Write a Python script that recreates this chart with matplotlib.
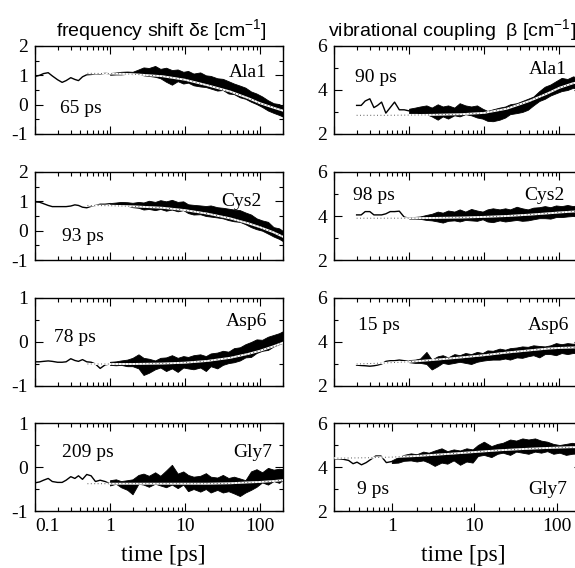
import numpy as np
import matplotlib
matplotlib.use("Agg")
import matplotlib.pyplot as plt

plt.rcParams['font.family'] = 'Liberation Serif'
plt.rcParams['mathtext.fontset'] = 'custom'
plt.rcParams['mathtext.rm'] = 'Liberation Sans'
plt.rcParams['mathtext.it'] = 'Liberation Sans:italic'

residues = ["Ala1", "Cys2", "Asp6", "Gly7"]
freq_tau = ["65 ps", "93 ps", "78 ps", "209 ps"]
coup_tau = ["90 ps", "98 ps", "15 ps", "9 ps"]

# time grids [ps]
t_early_left = [0.1, 0.115, 0.13, 0.15, 0.17, 0.2, 0.23, 0.26, 0.3, 0.34, 0.38, 0.43,
                0.49, 0.56, 0.64, 0.74, 0.86, 1.0]
t_early_right = [0.2, 0.23, 0.26, 0.3, 0.34, 0.38, 0.43, 0.49, 0.56, 0.64, 0.74, 0.86, 1.0]
t_band = [1.0, 1.2, 1.4, 1.7, 2.0, 2.4, 2.8, 3.3, 4.0, 4.7, 5.6, 6.7, 8, 9.5, 11, 13,
          16, 19, 22, 27, 32, 38, 45, 54, 64, 76, 90, 107, 128, 152, 180, 200]
t_fit_left = [0.5, 1, 2, 5, 10, 20, 40, 70, 100, 150, 200]
t_fit_right = [0.2, 0.5, 1, 2, 5, 10, 20, 40, 70, 100, 150, 200]

# frequency shift (left column)
freq_early = [
    [0.96, 1.0, 1.06, 1.09, 0.98, 0.85, 0.76, 0.82, 0.92, 0.86, 0.82, 0.95, 1.02, 1.03, 1.05, 1.04, 1.07, 1.05],
    [0.98, 0.97, 0.92, 0.86, 0.82, 0.82, 0.82, 0.82, 0.84, 0.88, 0.86, 0.8, 0.78, 0.83, 0.86, 0.9, 0.9, 0.92],
    [-0.45, -0.45, -0.44, -0.43, -0.44, -0.46, -0.46, -0.45, -0.38, -0.42, -0.44, -0.4, -0.45, -0.46, -0.5, -0.6, -0.52, -0.5],
    [-0.36, -0.34, -0.3, -0.26, -0.33, -0.35, -0.35, -0.3, -0.22, -0.26, -0.2, -0.28, -0.17, -0.2, -0.33, -0.3, -0.33, -0.38],
]
freq_hi = [
    [1.08, 1.1, 1.12, 1.13, 1.12, 1.2, 1.27, 1.25, 1.32, 1.22, 1.26, 1.18, 1.2, 1.12, 1.15, 1.06,
     1.1, 1.0, 0.98, 0.9, 0.88, 0.8, 0.72, 0.65, 0.58, 0.45, 0.38, 0.28, 0.15, 0.05, 0.02, -0.05],
    [0.94, 0.96, 0.98, 0.97, 0.95, 0.98, 0.96, 1.02, 0.98, 1.04, 1.0, 1.05, 0.98, 1.0, 0.9, 0.88,
     0.86, 0.84, 0.86, 0.8, 0.78, 0.75, 0.72, 0.7, 0.62, 0.55, 0.42, 0.35, 0.3, 0.12, 0.08, 0.0],
    [-0.45, -0.44, -0.42, -0.4, -0.36, -0.28, -0.36, -0.38, -0.42, -0.36, -0.35, -0.3, -0.36, -0.32, -0.34, -0.3,
     -0.28, -0.32, -0.26, -0.24, -0.2, -0.22, -0.14, -0.12, -0.05, 0.0, 0.06, 0.05, 0.12, 0.16, 0.2, 0.24],
    [-0.3, -0.28, -0.32, -0.3, -0.28, -0.18, -0.15, -0.2, -0.12, -0.2, -0.08, 0.05, -0.15, -0.1, -0.18, -0.22,
     -0.2, -0.14, -0.22, -0.24, -0.18, -0.25, -0.22, -0.26, -0.3, -0.1, -0.05, -0.12, -0.02, -0.06, -0.04, -0.05],
]
freq_lo = [
    [1.02, 1.03, 1.03, 1.05, 1.04, 1.06, 1.0, 0.98, 0.95, 0.9, 0.78, 0.68, 0.8, 0.72, 0.75, 0.66,
     0.62, 0.6, 0.55, 0.48, 0.5, 0.38, 0.36, 0.25, 0.2, 0.1, 0.02, -0.08, -0.2, -0.28, -0.35, -0.4],
    [0.88, 0.88, 0.86, 0.85, 0.8, 0.78, 0.72, 0.74, 0.7, 0.74, 0.68, 0.72, 0.66, 0.7, 0.6, 0.55,
     0.56, 0.5, 0.48, 0.45, 0.42, 0.36, 0.32, 0.3, 0.22, 0.12, 0.05, 0.0, -0.1, -0.2, -0.28, -0.35],
    [-0.52, -0.53, -0.52, -0.55, -0.55, -0.6, -0.75, -0.7, -0.62, -0.58, -0.66, -0.6, -0.68, -0.58, -0.6, -0.62,
     -0.58, -0.66, -0.55, -0.6, -0.52, -0.48, -0.46, -0.42, -0.35, -0.34, -0.25, -0.2, -0.18, -0.1, -0.05, -0.02],
    [-0.42, -0.38, -0.46, -0.52, -0.62, -0.38, -0.4, -0.45, -0.38, -0.42, -0.46, -0.4, -0.48, -0.4, -0.55, -0.5,
     -0.56, -0.5, -0.58, -0.52, -0.58, -0.55, -0.6, -0.66, -0.58, -0.52, -0.45, -0.35, -0.4, -0.32, -0.36, -0.3],
]
freq_fit = [
    [1.07, 1.06, 1.04, 0.97, 0.85, 0.66, 0.45, 0.22, 0.05, -0.1, -0.2],
    [0.86, 0.85, 0.83, 0.78, 0.7, 0.58, 0.42, 0.25, 0.12, -0.05, -0.2],
    [-0.5, -0.5, -0.5, -0.49, -0.47, -0.43, -0.36, -0.27, -0.2, -0.1, -0.02],
    [-0.38, -0.38, -0.38, -0.38, -0.38, -0.38, -0.37, -0.35, -0.34, -0.32, -0.3],
]

# vibrational coupling (right column)
coup_early = [
    [3.3, 3.3, 3.5, 3.6, 3.2, 3.3, 3.45, 2.95, 3.2, 3.45, 3.1, 3.1, 3.05],
    [4.05, 4.05, 4.2, 4.2, 4.05, 4.05, 4.05, 4.1, 4.2, 4.2, 4.22, 3.95, 3.9],
    [2.95, 2.93, 2.92, 2.9, 2.92, 2.95, 3.0, 3.12, 3.15, 3.15, 3.18, 3.15, 3.12],
    [4.37, 4.37, 4.35, 4.3, 4.15, 4.22, 4.1, 4.2, 4.35, 4.5, 4.5, 4.2, 4.25],
]
coup_hi = [
    [3.15, 3.2, 3.25, 3.3, 3.2, 3.35, 3.25, 3.3, 3.2, 3.4, 3.3, 3.25, 3.3, 3.15, 3.05, 3.12,
     3.2, 3.25, 3.35, 3.4, 3.5, 3.6, 3.7, 3.95, 4.15, 4.25, 4.4, 4.55, 4.5, 4.62, 4.55, 4.6],
    [3.95, 3.96, 3.98, 4.05, 4.1, 4.2, 4.15, 4.25, 4.2, 4.3, 4.2, 4.32, 4.25, 4.2, 4.3, 4.35,
     4.3, 4.35, 4.3, 4.42, 4.35, 4.3, 4.38, 4.4, 4.45, 4.4, 4.48, 4.45, 4.5, 4.45, 4.5, 4.52],
    [3.18, 3.2, 3.25, 3.55, 3.2, 3.35, 3.4, 3.3, 3.45, 3.4, 3.5, 3.45, 3.55, 3.5, 3.62, 3.6,
     3.7, 3.65, 3.72, 3.75, 3.8, 3.78, 3.85, 3.82, 3.8, 3.85, 3.95, 3.9, 3.95, 3.92, 3.95, 3.92],
    [4.3, 4.45, 4.55, 4.62, 4.58, 4.7, 4.65, 4.75, 4.85, 4.72, 4.8, 4.75, 4.85, 4.8, 5.0, 5.15,
     4.95, 5.05, 5.1, 5.25, 5.2, 5.3, 5.25, 5.3, 5.2, 5.15, 5.05, 5.0, 5.05, 5.1, 5.05, 5.1],
]
coup_lo = [
    [2.95, 2.95, 2.92, 2.9, 2.8, 2.65, 2.8, 2.7, 2.85, 2.8, 2.9, 2.85, 2.75, 2.7, 2.6, 2.58,
     2.65, 2.75, 2.9, 2.95, 3.0, 3.1, 3.3, 3.5, 3.6, 3.75, 3.85, 3.95, 4.0, 4.1, 4.05, 4.15],
    [3.88, 3.88, 3.87, 3.82, 3.8, 3.75, 3.7, 3.78, 3.8, 3.75, 3.82, 3.8, 3.78, 3.85, 3.75, 3.72,
     3.8, 3.75, 3.78, 3.82, 3.78, 3.8, 3.85, 3.9, 3.9, 3.88, 3.95, 3.95, 3.98, 4.0, 4.02, 4.05],
    [3.08, 3.05, 3.05, 3.0, 2.75, 2.9, 3.05, 3.0, 3.05, 3.1, 3.05, 3.0, 3.1, 3.15, 3.18, 3.2,
     3.2, 3.25, 3.2, 3.3, 3.28, 3.35, 3.4, 3.3, 3.45, 3.45, 3.4, 3.5, 3.45, 3.5, 3.48, 3.5],
    [4.18, 4.2, 4.28, 4.3, 4.25, 4.3, 4.2, 4.05, 4.2, 4.15, 4.3, 4.1, 4.25, 4.2, 4.5, 4.55,
     4.45, 4.6, 4.65, 4.55, 4.7, 4.65, 4.6, 4.7, 4.65, 4.72, 4.6, 4.65, 4.55, 4.6, 4.62, 4.65],
]
coup_fit = [
    [2.85, 2.85, 2.86, 2.87, 2.9, 2.96, 3.15, 3.5, 3.85, 4.1, 4.3, 4.4],
    [3.9, 3.9, 3.9, 3.91, 3.93, 3.96, 4.0, 4.06, 4.12, 4.16, 4.2, 4.22],
    [3.0, 3.05, 3.1, 3.18, 3.3, 3.4, 3.52, 3.62, 3.7, 3.73, 3.75, 3.76],
    [4.4, 4.42, 4.45, 4.5, 4.6, 4.68, 4.76, 4.82, 4.86, 4.88, 4.9, 4.9],
]

# label positions in axes fraction (x, y)
freq_name_pos = [(0.935, 0.70), (0.915, 0.67), (0.935, 0.73), (0.955, 0.67)]
freq_tau_pos = [(0.10, 0.29), (0.11, 0.27), (0.075, 0.55), (0.11, 0.67)]
coup_name_pos = [(0.94, 0.73), (0.93, 0.73), (0.95, 0.69), (0.94, 0.25)]
coup_tau_pos = [(0.085, 0.64), (0.077, 0.73), (0.097, 0.69), (0.093, 0.25)]

W, H = 575, 568
fig = plt.figure(figsize=(W / 100, H / 100), dpi=100)

row_tops = [46, 172, 298, 423]
row_h = 88


def style(ax, yticks, yminor, ylabels, xlim, bottom):
    ax.set_xscale("log")
    ax.set_xlim(*xlim)
    ax.set_ylim(yticks[0], yticks[-1])
    ax.set_yticks(yticks)
    ax.set_yticks(yminor, minor=True)
    ax.set_yticklabels(ylabels)
    ax.tick_params(which="both", direction="in", top=True, right=True, width=0.8,
                   labelsize=14, pad=5)
    ax.tick_params(which="major", length=6)
    ax.tick_params(which="minor", length=3)
    for s in ax.spines.values():
        s.set_linewidth(1.0)
    if bottom:
        ticks = [t for t in [0.1, 1, 10, 100] if t >= xlim[0]]
        ax.set_xticks(ticks)
        ax.set_xticklabels([("%g" % t) for t in ticks])
    else:
        ax.set_xticks([0.1, 1, 10, 100])
        ax.set_xticklabels([])
        ax.set_xticks([0.1, 1, 10, 100])
    ax.xaxis.set_minor_locator(matplotlib.ticker.LogLocator(base=10, subs=np.arange(2, 10)))
    ax.xaxis.set_minor_formatter(matplotlib.ticker.NullFormatter())


def draw(ax, t_e, y_e, hi, lo, t_f, y_f):
    ax.plot(t_e, y_e, color="black", lw=1.0, zorder=3)
    ax.fill_between(t_band, lo, hi, color="black", lw=0.6, zorder=2)
    ax.plot(t_f, y_f, color="white", lw=1.4, zorder=4)
    ax.plot(t_f, y_f, color="0.35", lw=0.7, ls=(0, (1, 2.5)), zorder=5)


for i in range(4):
    b = 1 - (row_tops[i] + row_h) / H
    axl = fig.add_axes([35 / W, b, 248 / W, row_h / H])
    if i < 2:
        style(axl, [-1, 0, 1, 2], [-0.5, 0.5, 1.5], ["-1", "0", "1", "2"], (0.1, 203), i == 3)
    else:
        style(axl, [-1, 0, 1], [-0.5, 0.5], ["-1", "0", "1"], (0.1, 203), i == 3)
    draw(axl, t_early_left, freq_early[i], freq_hi[i], freq_lo[i], t_fit_left, freq_fit[i])
    axl.text(*freq_name_pos[i], residues[i], transform=axl.transAxes, ha="right", va="center", fontsize=14)
    axl.text(*freq_tau_pos[i], freq_tau[i], transform=axl.transAxes, ha="left", va="center", fontsize=14)
    if i == 3:
        axl.get_xticklabels()[0].set_horizontalalignment("left")

    axr = fig.add_axes([334 / W, b, 248 / W, row_h / H])
    style(axr, [2, 4, 6], [3, 5], ["2", "4", "6"], (0.2, 200), i == 3)
    draw(axr, t_early_right, coup_early[i], coup_hi[i], coup_lo[i], t_fit_right, coup_fit[i])
    axr.text(*coup_name_pos[i], residues[i], transform=axr.transAxes, ha="right", va="center", fontsize=14)
    axr.text(*coup_tau_pos[i], coup_tau[i], transform=axr.transAxes, ha="left", va="center", fontsize=14)

fig.text(161 / W, 1 - 36 / H, r"frequency shift δε [cm$^{-1}$]", family="Liberation Sans",
         fontsize=14, ha="center", va="baseline")
fig.text(452 / W, 1 - 36 / H, r"vibrational coupling  β [cm$^{-1}$]", family="Liberation Sans",
         fontsize=14, ha="center", va="baseline")
fig.text(163 / W, 1 - 556 / H, "time [ps]", fontsize=17, ha="center", va="center")
fig.text(463 / W, 1 - 556 / H, "time [ps]", fontsize=17, ha="center", va="center")

fig.savefig("out.png", dpi=100)
